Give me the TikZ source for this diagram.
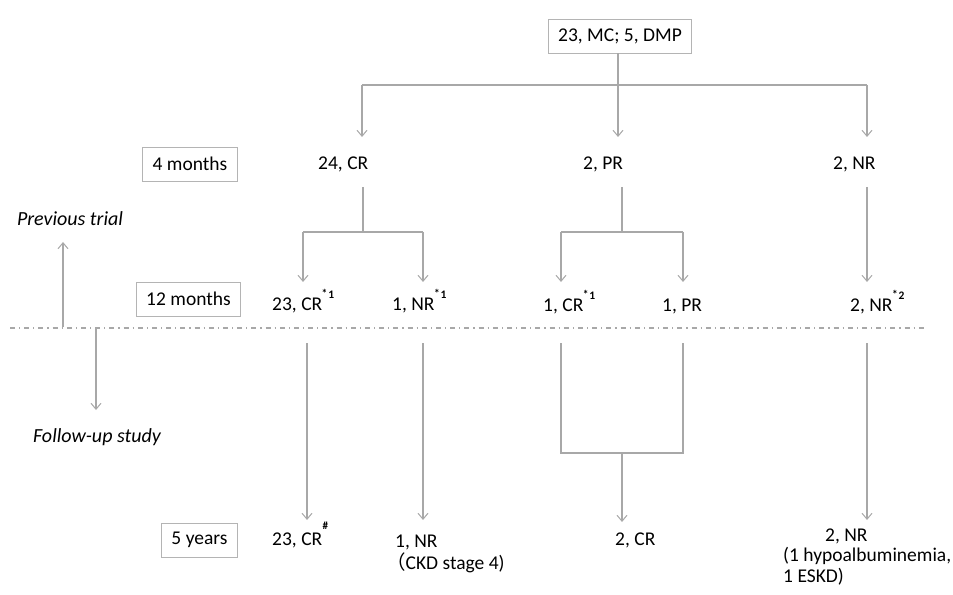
\documentclass[tikz,border=0pt]{standalone}
\usepackage{fontspec}
\setmainfont{Carlito}
\newfontfamily\cjkfont{Noto Sans CJK JP}
\usetikzlibrary{arrows.meta}
\definecolor{linegray}{HTML}{A8A8A8}
\definecolor{boxgray}{HTML}{B4B4B4}
\newcommand{\supnote}[1]{\kern-0.5bp\raisebox{12bp}{\fontsize{11.5bp}{11.5bp}\selectfont\bfseries\raisebox{1bp}{*}\kern0.8bp#1}}
\newcommand{\hashnote}{\kern0.5bp\raisebox{16bp}{\fontsize{11bp}{11bp}\selectfont\bfseries\#}}
\begin{document}
\begin{tikzpicture}[x=1bp,y=-1bp,
  every node/.style={font=\fontsize{19.5bp}{21bp}\selectfont},
  conn/.style={draw=linegray, line width=1.1bp},
  arr/.style={conn, -{Straight Barb[length=6bp,width=10bp,line width=1bp]}},
  lbl/.style={draw=boxgray, line width=0.8bp, inner xsep=10bp, inner ysep=0pt, minimum height=34bp},
  txt/.style={anchor=base west, inner sep=0pt},
  side/.style={anchor=center, inner sep=0pt, font=\fontsize{20bp}{22bp}\selectfont\itshape}]
\useasboundingbox (0,0) rectangle (953,595);

% label boxes
\node[lbl] (top) at (620,36) {23, MC; 5, DMP};
\node[lbl] (m4) at (190,164) {4 months};
\node[lbl] (m12) at (188.5,299) {12 months};
\node[lbl] (y5) at (199.5,540) {5 years};
\node[side] (prev) at (70,219) {Previous trial};
\node[side] (fup) at (97,437) {Follow-up study};

% row 1
\node[txt] (a1) at (318,170) {24, CR};
\node[txt] (b1) at (583,170) {2, PR};
\node[txt] (c1) at (833,170) {2, NR};
% row 2
\node[txt] (a2) at (272,310) {23, CR\supnote{1}};
\node[txt] (a2b) at (392,310) {1, NR\supnote{1}};
\node[txt] (b2) at (543,311) {1, CR\supnote{1}};
\node[txt] (b2b) at (662,311) {1, PR};
\node[txt] (c2) at (850,311) {2, NR\supnote{2}};
% row 3
\node[txt] (a3) at (272,545) {23, CR\hashnote};
\node[txt] (a3b) at (395,547) {1, NR};
\node[txt] (a3c) at (386,569) {{\cjkfont （}CKD stage 4)};
\node[txt] (b3) at (615,545) {2, CR};
\node[txt] (c3) at (825,541) {2, NR};
\node[txt] (c3b) at (783,561) {(1 hypoalbuminemia,};
\node[txt] (c3c) at (783,582) {1 ESKD)};

% coordinates
\coordinate (tA) at (362,85);
\coordinate (tB) at (618,85);
\coordinate (tC) at (867,85);
\coordinate (eA) at (362,137);
\coordinate (eB) at (618,137);
\coordinate (eC) at (867,137);

\coordinate (sA) at (363,187);
\coordinate (jA) at (363,232);
\coordinate (jA1) at (303,232);
\coordinate (jA2) at (423,232);
\coordinate (eA1) at (303,282);
\coordinate (eA2) at (423,282);
\coordinate (sB) at (622,187);
\coordinate (jB) at (622,232);
\coordinate (jB1) at (561,232);
\coordinate (jB2) at (683,232);
\coordinate (eB1) at (561,282);
\coordinate (eB2) at (683,282);
\coordinate (sC) at (867,187);
\coordinate (eC2) at (867,282);

\coordinate (dl) at (10,328);
\coordinate (dr) at (925,328);
\coordinate (pv0) at (63,327);
\coordinate (pv1) at (63,242);
\coordinate (fu0) at (96,328);
\coordinate (fu1) at (96,410);

\coordinate (uA1) at (307,343);
\coordinate (vA1) at (307,520);
\coordinate (uA2) at (423,343);
\coordinate (vA2) at (423,520);
\coordinate (uB1) at (561,343);
\coordinate (uB2) at (683,343);
\coordinate (wB1) at (561,453);
\coordinate (wB2) at (683,453);
\coordinate (wB) at (622,453);
\coordinate (vB) at (622,522);
\coordinate (uC) at (867,343);
\coordinate (vC) at (867,520);

% top tree
\draw[conn] (top.south -| tB) -- (tB);
\draw[conn] (tA) -- (tC);
\draw[arr] (tA) -- (eA);
\draw[arr] (tB) -- (eB);
\draw[arr] (tC) -- (eC);

% 4 -> 12 months
\draw[conn] (sA) -- (jA);
\draw[conn] (jA1) -- (jA2);
\draw[arr] (jA1) -- (eA1);
\draw[arr] (jA2) -- (eA2);
\draw[conn] (sB) -- (jB);
\draw[conn] (jB1) -- (jB2);
\draw[arr] (jB1) -- (eB1);
\draw[arr] (jB2) -- (eB2);
\draw[arr] (sC) -- (eC2);

% divider
\draw[draw=linegray, line width=1.1bp, dash pattern=on 5bp off 4bp on 1.2bp off 4bp] (dl) -- (dr);
\draw[arr] (pv0) -- (pv1);
\draw[arr] (fu0) -- (fu1);

% 12 months -> 5 years
\draw[arr] (uA1) -- (vA1);
\draw[arr] (uA2) -- (vA2);
\draw[conn] (uB1) -- (wB1) -- (wB2) -- (uB2);
\draw[arr] (wB) -- (vB);
\draw[arr] (uC) -- (vC);
\end{tikzpicture}
\end{document}
